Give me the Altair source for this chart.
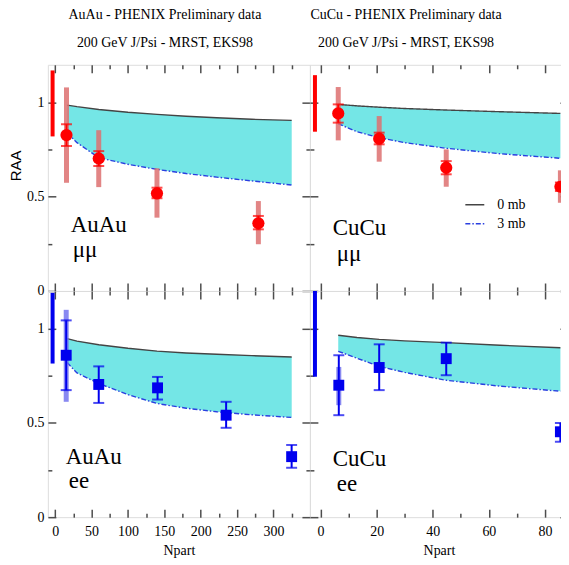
import altair as alt
import pandas as pd

# ---------------- data ----------------
# Top-left: AuAu, mu mu (PHENIX preliminary)
aumm_npart = [15.6, 59.9, 139.9, 279.2]
aumm_raa = [0.827, 0.703, 0.518, 0.359]
aumm_stat_lo = [0.769, 0.663, 0.492, 0.327]
aumm_stat_hi = [0.884, 0.742, 0.548, 0.398]
aumm_sys_lo = [0.574, 0.551, 0.389, 0.248]
aumm_sys_hi = [1.080, 0.853, 0.651, 0.477]

# Top-right: CuCu, mu mu
cumm_npart = [6.3, 20.9, 44.8, 85.5]
cumm_raa = [0.942, 0.808, 0.654, 0.553]
cumm_stat_lo = [0.893, 0.778, 0.619, 0.530]
cumm_stat_hi = [0.990, 0.840, 0.689, 0.575]
cumm_sys_lo = [0.799, 0.686, 0.553, 0.468]
cumm_sys_hi = [1.082, 0.928, 0.751, 0.640]

# Bottom-left: AuAu, ee
auee_npart = [15.2, 59.9, 140.7, 234.9, 324.9]
auee_raa = [0.859, 0.704, 0.686, 0.541, 0.321]
auee_stat_lo = [0.674, 0.606, 0.624, 0.474, 0.262]
auee_stat_hi = [1.044, 0.800, 0.744, 0.612, 0.383]
auee_sys_npart = [15.2]
auee_sys_lo = [0.612]
auee_sys_hi = [1.100]

# Bottom-right: CuCu, ee
cuee_npart = [6.5, 20.9, 44.8, 85.5]
cuee_raa = [0.700, 0.794, 0.841, 0.453]
cuee_stat_lo = [0.541, 0.674, 0.753, 0.400]
cuee_stat_hi = [0.859, 0.917, 0.926, 0.500]
cuee_sys_npart = [6.5]
cuee_sys_lo = [0.594]
cuee_sys_hi = [0.797]

# global normalisation uncertainty (TL, TR, BL, BR)
glob_npart = [-3.5, -2.0, -3.5, -2.0]
glob_lo = [0.820, 0.845, 0.815, 0.745]
glob_hi = [1.170, 1.145, 1.190, 1.200]

# theory curves: 0 mb (upper) and 3 mb (lower)
au_th_npart = [16.5, 30, 60, 100, 140, 180, 222, 270, 325]
aumm_0mb = [0.986, 0.978, 0.963, 0.948, 0.937, 0.927, 0.919, 0.911, 0.905]
aumm_3mb = [0.839, 0.787, 0.707, 0.672, 0.645, 0.623, 0.604, 0.584, 0.562]
auee_0mb = [0.947, 0.934, 0.915, 0.896, 0.881, 0.871, 0.864, 0.857, 0.850]
auee_3mb = [0.820, 0.765, 0.709, 0.650, 0.603, 0.578, 0.559, 0.543, 0.529]

cu_th_npart = [6.3, 13, 20.9, 30, 44.8, 64, 85.5]
cumm_0mb = [0.990, 0.982, 0.975, 0.968, 0.960, 0.951, 0.942]
cumm_3mb = [0.887, 0.845, 0.813, 0.787, 0.757, 0.728, 0.704]
cuee_0mb = [0.965, 0.953, 0.943, 0.935, 0.926, 0.912, 0.899]
cuee_3mb = [0.880, 0.843, 0.800, 0.768, 0.726, 0.695, 0.668]

model_names = ["0 mb", "3 mb"]
panel_titles = {
    "Au": ["AuAu - PHENIX Preliminary data", "200 GeV J/Psi - MRST, EKS98"],
    "Cu": ["CuCu - PHENIX Preliminary data", "200 GeV J/Psi - MRST, EKS98"],
}
panel_labels = {"TL": ["AuAu", "μμ"], "TR": ["CuCu", "μμ"],
                "BL": ["AuAu", "ee"], "BR": ["CuCu", "ee"]}

au_domain = [-10, 350]
cu_domain = [-3.8, 88.2]
y_domain = [0, 1.2]
au_major = [0, 50, 100, 150, 200, 250, 300]
au_minor = [25, 75, 125, 175, 225, 275, 325]
cu_major = [0, 20, 40, 60, 80]
cu_minor = [10, 30, 50, 70]
y_major = [0, 0.5, 1]
y_minor = [0.25, 0.75]

# ---------------- style ----------------
SERIF = "Liberation Serif"
SANS = "Liberation Sans"
FRAME = "#4d4d4d"
CYAN = "#74e6e6"
RED = "#ff0000"
LIGHT_RED = "#dd7070"
BLUE = "#0000ee"
LIGHT_BLUE = "#7474ee"
LINE_DARK = "#444444"
LINE_BLUE = "#2a3fe0"
DASHDOT = [5, 2, 1.5, 2]

AU_W, CU_W, H = 263, 259, 227


def scale(dom):
    return alt.Scale(domain=dom, nice=False, zero=False)


def X(field, dom):
    return alt.X(f"{field}:Q", scale=scale(dom), axis=None)


def Y(field):
    return alt.Y(f"{field}:Q", scale=scale(y_domain), axis=None)


def axis_layers(df, xdom, xmaj, xmin, xlabels, ylabels, ytitle=False):
    layers = []
    common = dict(domain=False, grid=False, tickColor=FRAME, tickWidth=1.5)
    for orient in ["bottom", "top"]:
        for vals, L in [(xmaj, 8), (xmin, 4)]:
            show = xlabels and orient == "bottom" and L == 8
            kw = dict(orient=orient, values=vals, tickSize=L, offset=-L,
                      labels=show, **common)
            if show:
                kw.update(labelFont=SERIF, labelFontSize=14, labelColor="black",
                          labelPadding=7, title="Npart", titleFont=SERIF,
                          titleFontSize=14, titleFontWeight="normal",
                          titleColor="black", titlePadding=5)
            else:
                kw.update(title="")
            layers.append(alt.Chart(df).mark_point(opacity=0).encode(
                x=alt.X("npart:Q", scale=scale(xdom), axis=alt.Axis(**kw)),
                y=Y("up")))
    for orient in ["left", "right"]:
        for vals, L in [(y_major, 8), (y_minor, 4)]:
            show = ylabels and orient == "left" and L == 8
            kw = dict(orient=orient, values=vals, tickSize=L, offset=-L,
                      labels=show, **common)
            if show:
                kw.update(labelFont=SERIF, labelFontSize=14, labelColor="black",
                          labelPadding=4, format="~g")
                if ytitle:
                    kw.update(title="RAA", titleFont=SANS, titleFontSize=15,
                              titleFontWeight="normal", titleColor="black",
                              titlePadding=3, titleY=101)
                else:
                    kw.update(title="")
            else:
                kw.update(title="")
            layers.append(alt.Chart(df).mark_point(opacity=0).encode(
                x=X("npart", xdom),
                y=alt.Y("up:Q", scale=scale(y_domain), axis=alt.Axis(**kw))))
    return layers


def label_layers(texts, pos):
    out = []
    for t, (px, py) in zip(texts, pos):
        out.append(alt.Chart(pd.DataFrame({"label": [t]})).mark_text(
            font=SERIF, fontSize=23, align="left", baseline="middle", color="black"
        ).encode(x=alt.value(px), y=alt.value(py), text="label:N"))
    return out


def panel(key, xdom, width, th_x, up, lo, npart, raa, st_lo, st_hi,
          sys_x, sys_lo, sys_hi, gidx, color, light, shape, title,
          xlabels, ylabels, ytitle, label_pos, legend=False):
    band = pd.DataFrame({"npart": th_x, "up": up, "lo": lo})
    pts = pd.DataFrame({"npart": npart, "raa": raa, "slo": st_lo, "shi": st_hi})
    sysd = pd.DataFrame({"npart": sys_x, "lo": sys_lo, "hi": sys_hi})
    glob = pd.DataFrame({"npart": [glob_npart[gidx]], "lo": [glob_lo[gidx]],
                         "hi": [glob_hi[gidx]]})

    layers = [alt.Chart(band).mark_area(color=CYAN, opacity=1).encode(
        x=X("npart", xdom), y=Y("up"), y2="lo")]
    if legend:
        n = len(th_x)
        long = pd.DataFrame({"npart": list(th_x) * 2, "raa": list(up) + list(lo),
                             "model": [model_names[0]] * n + [model_names[1]] * n})
        leg = alt.Legend(orient="none", legendX=155, legendY=130, title=None,
                         labelFont=SERIF, labelFontSize=14, labelColor="black",
                         symbolType="stroke", symbolSize=361, symbolStrokeWidth=1.5,
                         rowPadding=1, labelOffset=12, padding=0)
        layers.append(alt.Chart(long).mark_line(strokeWidth=1.4).encode(
            x=X("npart", xdom), y=Y("raa"),
            color=alt.Color("model:N", scale=alt.Scale(domain=model_names,
                            range=[LINE_DARK, LINE_BLUE]), legend=leg),
            strokeDash=alt.StrokeDash("model:N", scale=alt.Scale(domain=model_names,
                                      range=[[1, 0], DASHDOT]), legend=leg)))
    else:
        layers.append(alt.Chart(band).mark_line(color=LINE_DARK, strokeWidth=1.4)
                      .encode(x=X("npart", xdom), y=Y("up")))
        layers.append(alt.Chart(band).mark_line(color=LINE_BLUE, strokeWidth=1.4,
                                                strokeDash=DASHDOT)
                      .encode(x=X("npart", xdom), y=Y("lo")))
    layers.append(alt.Chart(glob).mark_rule(color=color, strokeWidth=4).encode(
        x=X("npart", xdom), y=Y("lo"), y2="hi"))
    layers.append(alt.Chart(sysd).mark_rule(color=light, strokeWidth=5, opacity=0.85)
                  .encode(x=X("npart", xdom), y=Y("lo"), y2="hi"))
    layers.append(alt.Chart(pts).mark_rule(color=color, strokeWidth=2).encode(
        x=X("npart", xdom), y=Y("slo"), y2="shi"))
    for f in ["slo", "shi"]:
        layers.append(alt.Chart(pts).mark_tick(color=color, orient="horizontal",
                                               size=11, thickness=2)
                      .encode(x=X("npart", xdom), y=Y(f)))
    layers.append(alt.Chart(pts).mark_point(shape=shape, filled=True, opacity=1,
                                            color=color, size=150 if shape == "circle" else 120)
                  .encode(x=X("npart", xdom), y=Y("raa")))
    layers += label_layers(panel_labels[key], label_pos)
    xmaj, xmin = (au_major, au_minor) if xdom == au_domain else (cu_major, cu_minor)
    layers += axis_layers(band, xdom, xmaj, xmin, xlabels, ylabels, ytitle)

    ch = alt.layer(*layers).resolve_axis(x="independent", y="independent")
    props = dict(width=width, height=H)
    if title is not None:
        props["title"] = alt.TitleParams(
            title, font=SERIF, fontSize=14, fontWeight="normal", color="black",
            lineHeight=28, anchor="middle", frame="group", offset=14.5,
            dx=-14 if xdom == au_domain else -33)
    return ch.properties(**props)


tl = panel("TL", au_domain, AU_W, au_th_npart, aumm_0mb, aumm_3mb,
           aumm_npart, aumm_raa, aumm_stat_lo, aumm_stat_hi,
           aumm_npart, aumm_sys_lo, aumm_sys_hi, 0, RED, LIGHT_RED, "circle",
           panel_titles["Au"], False, True, True, [(23, 161), (25, 186)])
tr = panel("TR", cu_domain, CU_W, cu_th_npart, cumm_0mb, cumm_3mb,
           cumm_npart, cumm_raa, cumm_stat_lo, cumm_stat_hi,
           cumm_npart, cumm_sys_lo, cumm_sys_hi, 1, RED, LIGHT_RED, "circle",
           panel_titles["Cu"], False, False, False, [(23, 164), (27, 190)],
           legend=True)
bl = panel("BL", au_domain, AU_W, au_th_npart, auee_0mb, auee_3mb,
           auee_npart, auee_raa, auee_stat_lo, auee_stat_hi,
           auee_sys_npart, auee_sys_lo, auee_sys_hi, 2, BLUE, LIGHT_BLUE, "square",
           None, True, True, False, [(18, 167), (21, 191)])
br = panel("BR", cu_domain, CU_W, cu_th_npart, cuee_0mb, cuee_3mb,
           cuee_npart, cuee_raa, cuee_stat_lo, cuee_stat_hi,
           cuee_sys_npart, cuee_sys_lo, cuee_sys_hi, 3, BLUE, LIGHT_BLUE, "square",
           None, True, False, False, [(23, 169), (27, 194)])

chart = alt.concat(tl, tr, bl, br, columns=2, spacing=0, bounds="flush").resolve_scale(
    color="independent", strokeDash="independent"
).properties(
    padding={"left": 0, "top": -2, "right": -9, "bottom": 0}
).configure_view(stroke=FRAME, strokeWidth=1.5).configure(background="white")

chart.save("out.html", embed_options={"renderer": "svg", "actions": False})
